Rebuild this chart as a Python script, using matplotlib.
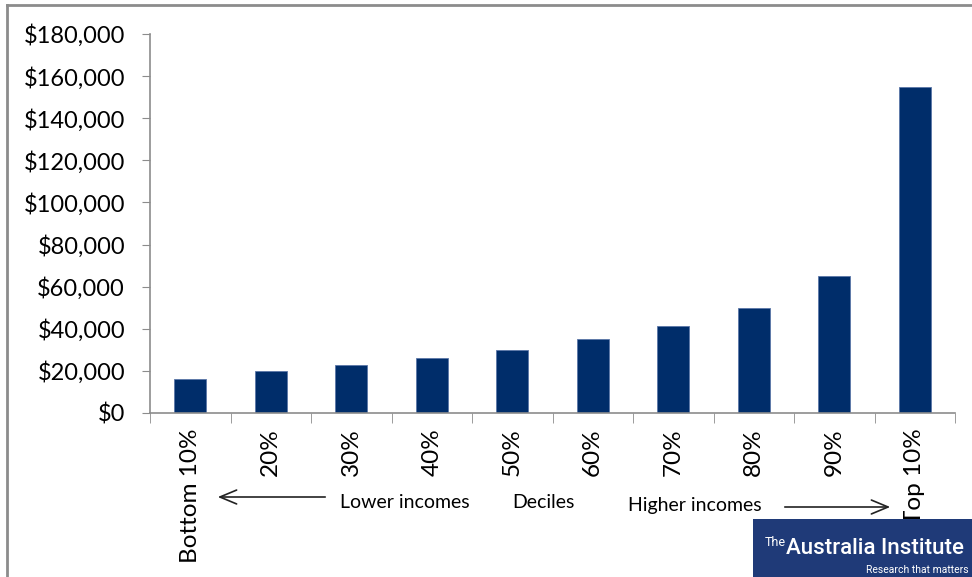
import matplotlib.pyplot as plt
from matplotlib.patches import Rectangle

# Income by decile
deciles = ["Bottom 10%", "20%", "30%", "40%", "50%", "60%", "70%", "80%", "90%", "Top 10%"]
income = [16000, 20000, 23000, 26000, 30000, 35000, 41500, 50000, 65000, 155000]
y_ticks = [0, 20000, 40000, 60000, 80000, 100000, 120000, 140000, 160000, 180000]

plt.rcParams['font.family'] = ['Lato', 'DejaVu Sans']

fig = plt.figure(figsize=(9.72, 5.77), dpi=100)
ax = fig.add_axes([150 / 972, 1 - 413 / 577, 805 / 972, 379 / 577])

ax.bar(range(len(deciles)), income, width=0.4, color='#002d6a', edgecolor='#5a76a8', linewidth=0.6, zorder=2)

ax.set_xlim(-0.5, len(deciles) - 0.5)
ax.set_ylim(0, 180000)
ax.set_yticks(y_ticks)
ax.set_yticklabels([f"${v:,.0f}" for v in y_ticks], fontsize=17)
ax.set_xticks(range(len(deciles)))
ax.set_xticklabels(deciles, rotation=90, fontsize=17.5, va='top', ha='center')

# tick marks sit between categories on the x axis
ax.set_xticks([i - 0.5 for i in range(len(deciles) + 1)], minor=True)
ax.tick_params(axis='x', which='major', length=0, pad=11)
ax.tick_params(axis='x', which='minor', length=7, color='#8c8c8c', direction='out')
ax.tick_params(axis='y', length=6, color='#8c8c8c', direction='out', pad=12)

for side in ['top', 'right']:
    ax.spines[side].set_visible(False)
for side in ['left', 'bottom']:
    ax.spines[side].set_color('#8c8c8c')
    ax.spines[side].set_linewidth(1.2)

# direction labels under the axis
fig.text(340 / 972, 1 - 502 / 577, "Lower incomes", fontsize=14, va='center', ha='left')
fig.text(512 / 972, 1 - 502 / 577, "Deciles", fontsize=14, va='center', ha='left')
fig.text(628 / 972, 1 - 505 / 577, "Higher incomes", fontsize=14, va='center', ha='left')
ax.annotate("", xy=(215 / 972, 1 - 497 / 577), xytext=(328 / 972, 1 - 497 / 577),
            xycoords='figure fraction', textcoords='figure fraction',
            arrowprops=dict(arrowstyle='->,head_length=1.2,head_width=0.5', color='#222222', lw=1.2))
ax.annotate("", xy=(893 / 972, 1 - 507 / 577), xytext=(782 / 972, 1 - 507 / 577),
            xycoords='figure fraction', textcoords='figure fraction',
            arrowprops=dict(arrowstyle='->,head_length=1.2,head_width=0.5', color='#222222', lw=1.2))

# outer frame
fig.add_artist(plt.Line2D([7 / 972, 7 / 972], [0, 1 - 5 / 577], color='#8c8c8c', lw=2))
fig.add_artist(plt.Line2D([7 / 972, 1], [1 - 5 / 577, 1 - 5 / 577], color='#8c8c8c', lw=2))

# logo block
fig.add_artist(Rectangle((753 / 972, 0), 219 / 972, 58 / 577, transform=fig.transFigure,
                         facecolor='#1f3a78', edgecolor='none', zorder=5))
fig.text(765 / 972, 1 - 546 / 577, "The", fontsize=9, color='white', va='baseline', zorder=6,
         family=['Roboto', 'DejaVu Sans'])
fig.text(786 / 972, 1 - 554 / 577, "Australia Institute", fontsize=16, color='white',
         va='baseline', zorder=6, family=['Roboto', 'DejaVu Sans'], weight='medium')
fig.text(969 / 972, 1 - 575 / 577, "Research that matters", fontsize=7.5, color='white',
         ha='right', va='bottom', zorder=6, family=['Roboto', 'DejaVu Sans'])

fig.savefig("out.png", dpi=100)
